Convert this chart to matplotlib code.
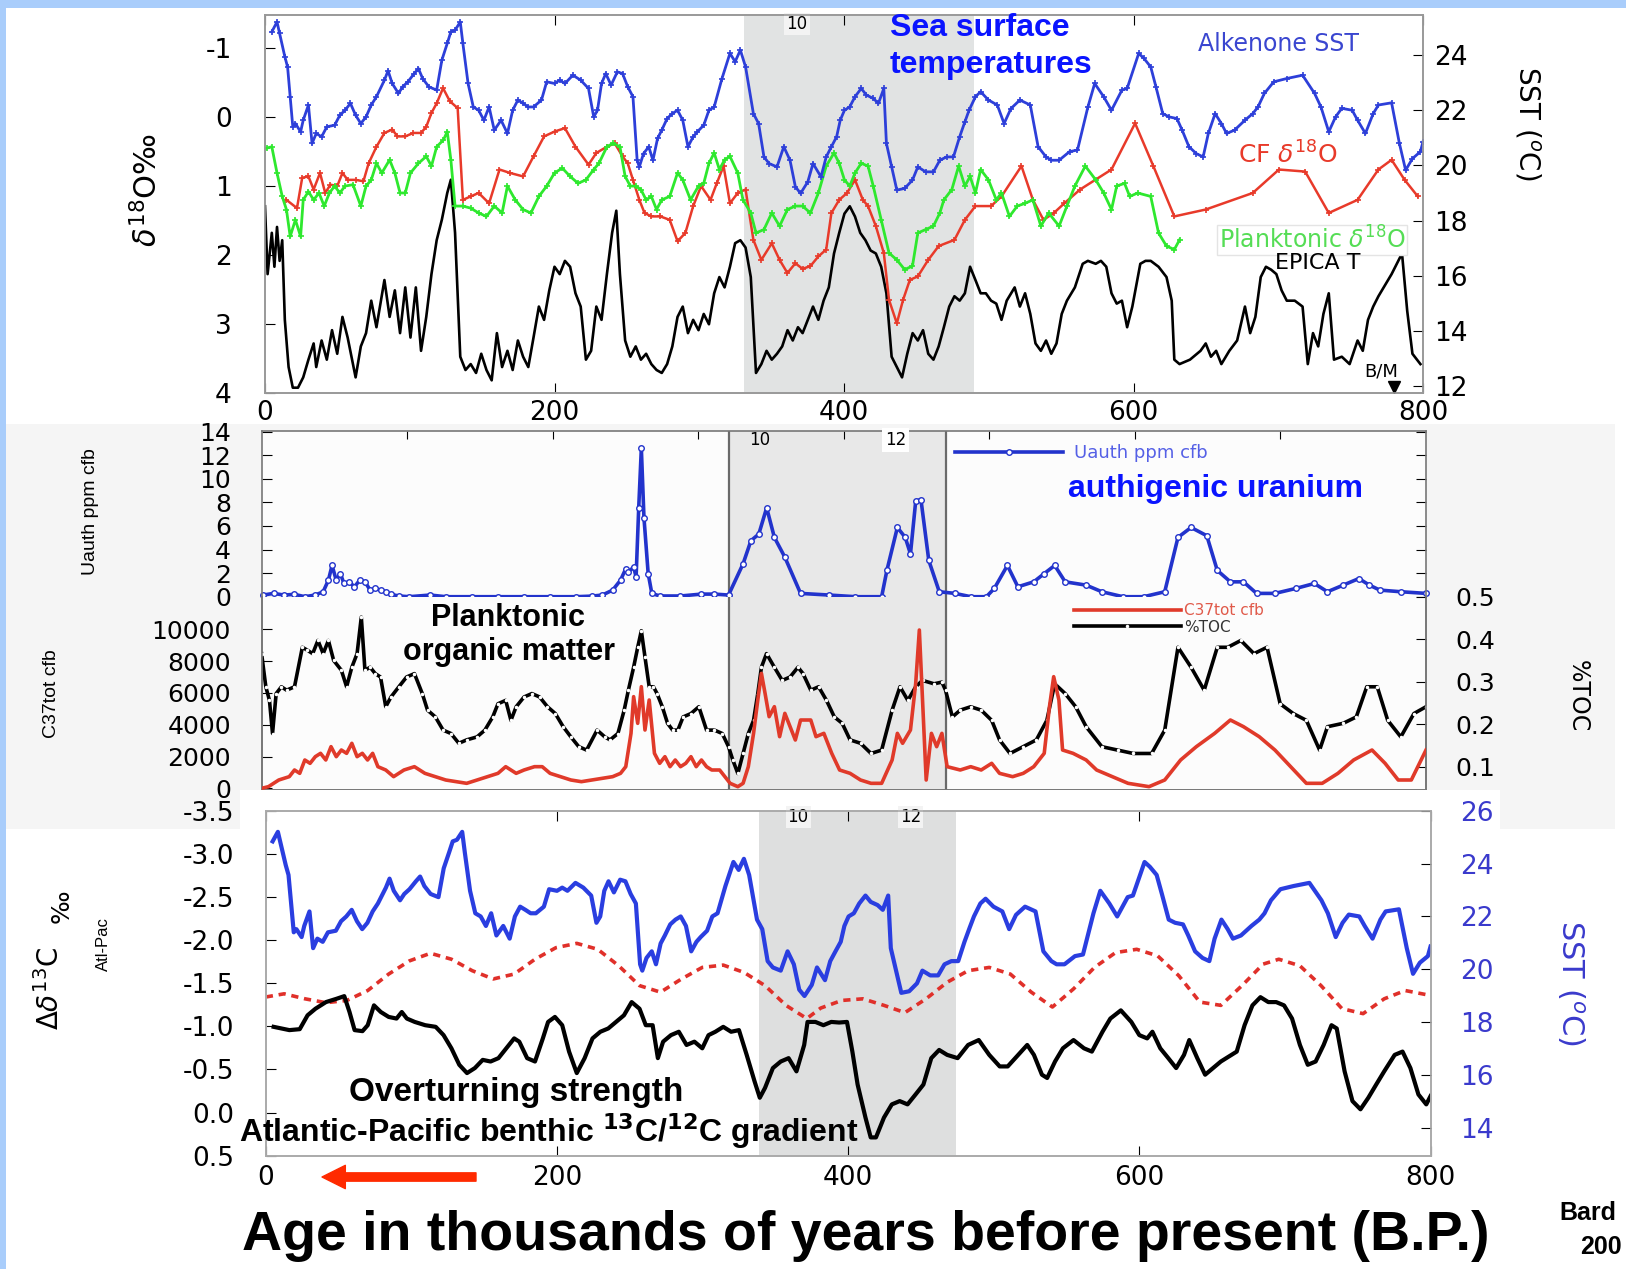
import matplotlib
matplotlib.use('Agg')
import matplotlib.pyplot as plt
from matplotlib.patches import Rectangle, FancyArrowPatch
from matplotlib.transforms import blended_transform_factory
from matplotlib.ticker import FormatStrFormatter

plt.rcParams['font.family'] = ['DejaVu Sans']
plt.rcParams['axes.unicode_minus'] = False
plt.rcParams['mathtext.fontset'] = 'dejavusans'

W, H = 1626, 1269

# ---------------- data (age in kyr BP, value) ----------------
# alkenone SST (deg C), used in the upper and the lower panel
sst_pts = [(4.7, 24.84), (8.3, 25.2), (10.1, 24.78), (13.7, 23.94), (15.6, 23.57), (17.4, 22.49), (19.2, 21.4),
           (21.0, 21.52), (24.6, 21.22), (26.4, 21.64), (30.0, 22.19), (32.5, 20.8), (35.4, 21.16), (39.1, 21.04),
           (42.7, 21.4), (48.1, 21.46), (51.7, 21.82), (55.3, 22.0), (59.0, 22.25), (62.6, 21.82), (66.2, 21.52),
           (69.8, 21.76), (73.4, 22.19), (77.0, 22.49), (82.5, 23.09), (85.0, 23.43), (87.9, 22.97), (92.2, 22.61),
           (95.1, 22.85), (98.7, 23.03), (103.1, 23.33), (106.0, 23.51), (108.9, 23.15), (113.2, 22.85),
           (118.6, 22.73), (122.2, 23.82), (125.9, 24.42), (128.4, 24.84), (131.3, 24.9), (134.9, 25.2),
           (136.7, 24.42), (140.3, 22.97), (143.9, 22.12), (147.6, 22.0), (151.2, 21.64), (154.8, 22.12),
           (158.4, 21.28), (163.1, 21.64), (167.5, 21.16), (171.1, 22.0), (174.7, 22.37), (178.3, 22.25),
           (181.9, 22.12), (185.5, 22.12), (191.0, 22.37), (194.6, 23.03), (200.0, 22.97), (203.6, 23.09),
           (207.2, 22.97), (212.7, 23.27), (218.1, 23.09), (223.5, 22.79), (227.1, 21.76), (229.7, 22.0),
           (232.5, 22.97), (235.4, 23.33), (239.1, 22.91), (243.4, 23.39), (247.0, 23.33), (250.6, 22.85),
           (254.2, 22.49), (257.1, 20.19), (258.6, 19.95), (261.5, 20.43), (265.1, 20.68), (268.0, 20.19),
           (271.2, 20.98), (274.1, 21.28), (277.8, 21.7), (281.4, 21.88), (285.0, 22.0), (288.6, 21.64),
           (292.2, 20.68), (295.8, 21.04), (298.7, 21.22), (303.1, 21.46), (306.7, 22.0), (310.3, 22.12),
           (315.7, 23.15), (321.2, 24.06), (324.8, 23.76), (328.4, 24.18), (332.0, 23.57), (337.4, 21.88),
           (341.0, 21.52), (344.7, 20.31), (348.3, 20.07), (353.7, 19.95), (358.4, 20.68), (362.7, 20.19),
           (366.4, 19.23), (370.0, 18.99), (375.0, 19.41), (378.6, 20.07), (384.1, 19.59), (387.7, 20.31),
           (391.3, 20.68), (394.9, 21.04), (397.4, 21.64), (400.3, 22.0), (403.9, 22.12), (407.6, 22.49),
           (411.9, 22.79), (415.5, 22.55), (420.2, 22.43), (423.8, 22.25), (427.5, 22.79), (429.3, 20.8),
           (432.9, 19.95), (436.5, 19.11), (441.9, 19.17), (447.3, 19.47), (451.0, 19.95), (456.4, 19.77),
           (461.8, 19.77), (466.2, 20.19), (470.9, 20.31), (475.6, 20.31), (479.9, 21.04), (483.5, 21.58),
           (486.4, 22.0), (490.8, 22.49), (494.4, 22.67), (499.8, 22.37), (505.9, 22.19), (510.6, 21.52),
           (515.3, 22.06), (521.5, 22.37), (528.7, 22.19), (534.1, 20.68), (539.6, 20.31), (543.2, 20.19),
           (548.6, 20.19), (555.8, 20.5), (561.3, 20.56), (568.5, 22.12), (573.2, 22.97), (579.4, 22.49),
           (584.8, 22.0), (592.0, 22.73), (595.6, 22.79), (603.6, 24.06), (607.2, 23.88), (611.9, 23.57),
           (615.5, 22.85), (620.2, 21.88), (624.6, 21.76), (630.0, 21.7), (633.6, 21.28), (638.3, 20.68),
           (643.4, 20.43), (648.1, 20.31), (651.7, 21.16), (656.4, 21.88), (660.7, 21.52), (664.3, 21.16),
           (669.8, 21.28), (677.0, 21.64), (682.4, 21.88), (686.0, 22.12), (690.4, 22.61), (696.9, 23.03),
           (705.9, 23.15), (716.8, 23.27), (725.1, 22.61), (729.5, 22.12), (734.9, 21.22), (739.6, 21.76),
           (743.9, 22.07), (751.1, 22.0), (754.8, 21.64), (760.2, 21.16), (765.6, 21.88), (769.2, 22.19),
           (778.3, 22.27), (783.7, 20.8), (788.0, 19.83), (792.7, 20.25), (798.2, 20.5), (800.0, 20.86)]

# benthic (Cibicides) d18O, permil
cf_pts = [(14.8, 1.20), (22.1, 1.32), (25.7, 0.88), (30.0, 0.86), (33.6, 1.05), (38.0, 0.81), (41.6, 1.10),
          (45.2, 0.98), (49.9, 1.00), (53.5, 0.81), (57.1, 0.91), (62.6, 0.91), (68.0, 0.93), (71.6, 0.67),
          (77.0, 0.43), (82.5, 0.23), (87.9, 0.18), (91.5, 0.28), (96.9, 0.28), (102.4, 0.23), (107.8, 0.23),
          (111.4, 0.14), (115.0, -0.06), (118.6, -0.20), (123.0, -0.42), (127.7, -0.23), (133.1, -0.13),
          (136.7, 1.20), (142.1, 1.15), (147.6, 1.10), (154.8, 1.25), (162.0, 0.76), (169.3, 0.81), (178.3, 0.86),
          (185.5, 0.57), (192.8, 0.28), (200.0, 0.21), (207.2, 0.16), (214.5, 0.43), (223.5, 0.69), (228.9, 0.52),
          (236.2, 0.43), (241.6, 0.38), (247.0, 0.57), (250.6, 0.67), (254.2, 0.91), (258.6, 1.20), (262.2, 1.39),
          (266.9, 1.44), (273.1, 1.44), (279.6, 1.49), (285.0, 1.80), (290.4, 1.68), (295.8, 1.29), (301.3, 1.00),
          (307.8, 1.20), (312.1, 0.96), (316.8, 0.71), (321.2, 1.25), (326.6, 1.10), (332.0, 1.05), (337.4, 1.78),
          (342.9, 2.07), (350.1, 1.83), (355.5, 2.07), (360.9, 2.26), (366.4, 2.12), (371.4, 2.20), (376.8, 2.16),
          (382.3, 2.02), (387.7, 1.92), (391.3, 1.39), (396.7, 1.20), (402.1, 1.10), (407.6, 0.91), (413.0, 1.20),
          (416.6, 1.29), (422.0, 1.58), (427.5, 1.97), (431.1, 2.65), (436.5, 2.99), (440.8, 2.65), (445.5, 2.36),
          (451.0, 2.31), (458.2, 2.07), (465.4, 1.87), (476.3, 1.78), (483.5, 1.49), (490.8, 1.29), (501.6, 1.29),
          (508.8, 1.15), (522.6, 0.71), (530.5, 1.20), (537.8, 1.49), (545.0, 1.39), (552.2, 1.25), (563.1, 1.05),
          (584.8, 0.76), (601.1, 0.09), (613.7, 0.71), (628.2, 1.44), (649.9, 1.34), (682.4, 1.10), (700.5, 0.76),
          (718.6, 0.79), (734.9, 1.39), (754.8, 1.20), (769.2, 0.76), (778.3, 0.62), (787.3, 0.91), (796.4, 1.15)]

# planktonic d18O, permil
pl_pts = [(1.1, 0.45), (4.7, 0.43), (8.3, 0.81), (11.9, 1.15), (14.8, 1.34), (17.4, 1.73), (21.0, 1.49),
          (24.6, 1.73), (26.4, 1.20), (30.0, 1.08), (33.6, 1.20), (37.3, 1.10), (40.9, 1.29), (44.5, 1.10),
          (48.1, 1.00), (51.7, 1.10), (55.3, 1.00), (60.8, 0.98), (66.2, 1.29), (69.8, 1.00), (73.4, 0.91),
          (77.0, 0.67), (80.7, 0.81), (86.1, 0.62), (89.7, 0.81), (93.3, 1.10), (96.9, 1.10), (100.5, 0.81),
          (106.0, 0.67), (111.4, 0.57), (115.0, 0.71), (118.6, 0.43), (123.3, 0.33), (125.9, 0.21), (128.4, 0.62),
          (131.3, 1.29), (136.7, 1.29), (142.1, 1.32), (147.6, 1.39), (153.0, 1.44), (158.4, 1.29), (163.8, 1.39),
          (167.5, 1.00), (172.9, 1.20), (178.3, 1.34), (183.7, 1.39), (189.2, 1.15), (194.6, 1.00), (200.0, 0.81),
          (205.4, 0.74), (210.8, 0.86), (216.3, 0.96), (221.7, 0.91), (227.1, 0.76), (230.7, 0.67), (236.2, 0.43),
          (240.5, 0.38), (245.2, 0.43), (248.8, 0.86), (252.4, 1.00), (256.1, 1.00), (259.7, 1.05), (263.3, 1.20),
          (266.9, 1.15), (270.5, 1.34), (274.1, 1.20), (279.6, 1.15), (285.0, 0.81), (288.6, 0.91), (294.0, 1.20),
          (299.5, 1.00), (303.1, 0.96), (306.7, 0.67), (310.3, 0.52), (313.9, 0.76), (317.5, 0.62), (321.2, 0.57),
          (326.6, 0.81), (330.2, 1.20), (335.6, 1.39), (339.2, 1.68), (344.7, 1.63), (350.1, 1.39), (355.5, 1.58),
          (360.9, 1.34), (366.4, 1.29), (371.4, 1.29), (376.8, 1.39), (382.3, 1.10), (387.7, 0.71), (393.1, 0.52),
          (396.7, 0.67), (400.3, 0.91), (404.0, 1.00), (407.6, 0.81), (411.9, 0.67), (416.6, 0.71), (420.2, 1.00),
          (425.7, 1.49), (431.1, 1.97), (436.5, 2.07), (441.9, 2.21), (447.3, 2.16), (451.0, 1.68), (456.4, 1.63),
          (461.8, 1.58), (466.2, 1.39), (469.0, 1.20), (474.5, 1.05), (479.2, 0.71), (483.5, 1.00), (487.1, 0.86),
          (490.8, 1.10), (494.4, 0.76), (499.8, 0.91), (505.2, 1.20), (508.8, 1.10), (514.3, 1.44), (519.7, 1.29),
          (525.1, 1.25), (530.5, 1.20), (536.0, 1.58), (541.4, 1.39), (548.6, 1.58), (554.0, 1.29), (559.5, 1.00),
          (566.7, 0.71), (573.9, 0.91), (579.4, 1.10), (584.8, 1.34), (588.4, 1.00), (593.8, 0.96), (597.4, 1.15),
          (602.9, 1.10), (611.9, 1.15), (617.3, 1.68), (622.8, 1.87), (628.2, 1.92), (631.8, 1.78)]

# EPICA Dome C temperature anomaly (deg C)
epica_pts = [(0.0, 2.3), (1.8, -2.3), (4.7, 0.5), (6.5, -1.8), (8.3, 0.9), (10.1, -1.4), (11.9, 0.0), (13.7, -5.4),
             (16.3, -8.6), (19.2, -10.0), (22.8, -10.0), (26.4, -9.3), (30.0, -8.1), (33.6, -7.0), (35.4, -8.6),
             (39.1, -6.8), (42.7, -8.1), (46.3, -6.1), (49.9, -7.7), (53.5, -5.2), (57.1, -6.6), (62.6, -9.3),
             (66.2, -7.2), (69.8, -6.3), (73.4, -4.1), (77.0, -5.9), (82.5, -2.7), (86.1, -5.2), (89.7, -3.4),
             (93.3, -6.3), (96.9, -3.2), (100.5, -6.6), (104.2, -3.2), (107.8, -7.5), (111.4, -5.2), (115.0, -2.3),
             (118.6, 0.0), (122.2, 1.4), (125.9, 3.2), (128.4, 4.1), (131.3, 0.5), (134.9, -7.9), (138.5, -8.8),
             (142.1, -8.4), (145.8, -9.0), (149.4, -7.7), (153.0, -8.8), (156.6, -9.5), (160.2, -6.3), (163.8, -8.6),
             (167.5, -7.5), (171.1, -8.8), (174.7, -6.8), (178.3, -7.9), (181.9, -8.6), (185.5, -6.6), (189.2, -4.5),
             (192.8, -5.4), (196.4, -3.4), (200.0, -1.8), (203.6, -2.3), (207.2, -1.4), (210.8, -1.8), (214.5, -3.6),
             (218.1, -4.5), (221.7, -8.1), (225.3, -7.5), (228.9, -4.5), (232.5, -5.4), (236.2, -2.3), (239.8, 0.5),
             (242.7, 2.0), (245.2, -2.3), (248.8, -6.8), (252.4, -7.9), (256.1, -7.2), (259.7, -8.1), (263.3, -7.7),
             (266.9, -8.4), (270.5, -8.8), (274.1, -9.0), (277.8, -8.4), (281.4, -7.2), (285.0, -5.2), (288.6, -4.5),
             (292.2, -6.3), (295.8, -5.4), (299.5, -6.1), (303.1, -5.0), (306.7, -5.7), (310.3, -3.6), (313.9, -2.5),
             (317.5, -3.2), (321.2, -1.8), (324.8, -0.2), (328.4, 0.0), (332.0, -0.5), (335.6, -2.5), (339.2, -9.0),
             (342.9, -8.4), (346.5, -7.5), (350.1, -8.1), (353.7, -7.7), (357.3, -7.2), (361.0, -6.1), (364.6, -6.8),
             (368.2, -5.9), (371.4, -6.3), (375.0, -5.4), (378.6, -4.5), (382.3, -5.4), (385.9, -4.1), (389.5, -3.2),
             (393.1, -0.9), (396.7, 0.5), (400.3, 1.8), (404.0, 2.3), (407.6, 1.6), (411.2, 0.5), (414.8, 0.0),
             (418.4, -0.7), (422.0, -0.9), (425.7, -1.8), (429.3, -3.6), (432.9, -7.9), (436.5, -8.6), (440.1, -9.3),
             (443.7, -7.7), (447.4, -6.3), (451.0, -6.8), (454.6, -6.1), (458.2, -7.7), (461.8, -8.1), (465.4, -7.2),
             (469.0, -5.9), (472.7, -4.5), (476.3, -3.8), (479.9, -4.1), (483.5, -3.6), (487.1, -1.8), (490.8, -2.7),
             (494.4, -3.6), (498.0, -3.6), (501.6, -4.1), (505.2, -4.3), (508.8, -5.4), (512.4, -4.1), (517.9, -3.2),
             (521.5, -4.5), (525.1, -3.6), (528.7, -5.0), (532.3, -7.0), (536.0, -7.5), (539.6, -6.8), (543.2, -7.7),
             (546.8, -7.0), (550.4, -5.0), (554.0, -4.1), (559.5, -3.2), (564.9, -1.6), (568.5, -1.4), (573.9, -1.6),
             (577.5, -1.4), (581.2, -1.8), (584.8, -3.6), (588.4, -4.3), (592.0, -4.1), (595.6, -5.9), (599.2, -4.5),
             (604.7, -1.6), (608.3, -1.4), (611.9, -1.4), (617.3, -1.8), (622.8, -2.5), (626.4, -4.1), (628.2, -8.1),
             (631.8, -8.4), (639.0, -8.1), (646.3, -7.5), (649.9, -7.0), (653.5, -7.9), (657.1, -7.5), (660.7, -8.4),
             (666.2, -7.5), (671.6, -6.8), (677.0, -4.5), (680.6, -6.3), (684.2, -5.2), (687.9, -2.5), (691.5, -1.8),
             (695.1, -2.0), (698.7, -2.3), (702.3, -3.4), (705.9, -4.1), (711.4, -4.1), (716.8, -4.5), (720.4, -8.4),
             (724.0, -6.3), (727.6, -7.2), (731.2, -5.0), (734.9, -3.6), (738.5, -8.1), (743.9, -7.9), (749.3, -8.4),
             (754.8, -6.8), (758.4, -7.5), (762.0, -5.4), (765.6, -4.5), (769.2, -3.8), (774.7, -2.9), (778.3, -2.3),
             (781.9, -1.6), (785.5, -0.9), (789.1, -4.8), (792.7, -7.7), (798.2, -8.4)]

bm_age = 780  # Brunhes/Matuyama reversal

# authigenic uranium, ppm carbonate-free basis
u_pts = [(1.1, 0.14), (8.2, 0.28), (15.4, 0.14), (22.6, 0.2), (29.7, 0.0), (36.9, 0.14), (42.3, 0.42), (45.9, 1.40),
         (48.4, 2.65), (51.3, 1.40), (54.1, 1.96), (56.6, 1.12), (60.2, 1.26), (63.8, 0.84), (67.4, 1.40),
         (71.0, 1.26), (74.6, 0.56), (78.1, 0.70), (81.7, 0.56), (85.3, 0.42), (88.9, 0.20), (94.3, 0.06),
         (101.4, 0.0), (115.8, 0.14), (126.5, 0.0), (144.4, 0.0), (162.4, 0.0), (180.3, 0.0), (198.2, 0.0),
         (216.1, 0.0), (226.9, 0.05), (234.1, 0.14), (241.2, 0.56), (246.6, 1.40), (250.2, 2.37), (252.0, 2.10),
         (255.6, 2.51), (257.3, 1.68), (259.1, 7.54), (260.9, 12.57), (262.7, 6.70), (265.6, 1.96), (268.1, 0.28),
         (273.5, 0.06), (287.8, 0.06), (302.2, 0.22), (311.1, 0.22), (320.8, 0.14), (330.8, 2.79), (336.2, 4.75),
         (341.6, 5.31), (347.0, 7.54), (352.3, 5.03), (359.5, 3.35), (370.3, 0.28), (389.9, 0.14), (407.9, 0.0),
         (426.0, 0.0), (429.6, 2.23), (436.8, 5.87), (442.2, 5.03), (445.8, 3.63), (449.4, 8.10), (453.0, 8.24),
         (458.4, 3.07), (465.6, 0.42), (476.4, 0.28), (487.2, 0.0), (498.0, 0.0), (503.4, 0.70), (512.4, 2.65),
         (519.6, 0.84), (530.5, 1.26), (537.7, 1.96), (544.9, 2.65), (552.1, 1.26), (566.5, 0.98), (577.3, 0.42),
         (591.7, 0.0), (606.1, 0.0), (620.5, 0.42), (629.6, 5.03), (638.6, 5.87), (649.4, 5.17), (656.6, 2.23),
         (665.6, 1.26), (674.6, 1.26), (683.6, 0.28), (696.2, 0.28), (710.6, 0.70), (723.3, 1.12), (732.3, 0.42),
         (743.1, 0.98), (753.9, 1.54), (761.1, 0.98), (768.3, 0.56), (782.7, 0.42), (800.0, 0.28)]

# total organic carbon, %
toc_pts = [(0.0, 0.366), (2.9, 0.288), (5.4, 0.256), (7.5, 0.178), (10.0, 0.272), (13.6, 0.288), (17.2, 0.280),
           (22.6, 0.288), (28.0, 0.381), (31.5, 0.374), (35.1, 0.366), (38.7, 0.397), (42.3, 0.366), (45.9, 0.397),
           (49.5, 0.350), (54.8, 0.327), (58.4, 0.288), (62.0, 0.334), (65.6, 0.366), (68.5, 0.452), (71.0, 0.327),
           (74.6, 0.334), (78.1, 0.319), (81.7, 0.311), (85.3, 0.241), (88.9, 0.264), (94.3, 0.288), (99.6, 0.311),
           (105.0, 0.319), (110.4, 0.272), (114.0, 0.233), (119.4, 0.217), (124.7, 0.186), (130.1, 0.178),
           (135.5, 0.155), (140.9, 0.163), (148.0, 0.170), (153.4, 0.186), (158.8, 0.217), (162.4, 0.248),
           (167.7, 0.256), (171.3, 0.209), (174.9, 0.241), (180.3, 0.264), (185.7, 0.272), (191.0, 0.264),
           (196.4, 0.241), (201.8, 0.225), (207.2, 0.194), (212.5, 0.170), (217.9, 0.147), (223.3, 0.139),
           (230.5, 0.186), (235.8, 0.170), (239.4, 0.163), (244.8, 0.178), (249.1, 0.233), (252.0, 0.280),
           (255.6, 0.334), (258.4, 0.381), (260.9, 0.420), (263.4, 0.358), (266.3, 0.288), (269.2, 0.288),
           (271.7, 0.272), (275.3, 0.241), (278.9, 0.202), (282.4, 0.186), (286.0, 0.186), (289.6, 0.217),
           (295.0, 0.225), (300.4, 0.241), (305.7, 0.186), (311.1, 0.186), (316.5, 0.178), (320.8, 0.147),
           (323.7, 0.116), (327.2, 0.084), (330.8, 0.131), (334.4, 0.178), (338.0, 0.209), (340.9, 0.272),
           (343.4, 0.334), (346.9, 0.366), (352.3, 0.334), (357.7, 0.303), (363.1, 0.311), (368.5, 0.334),
           (372.0, 0.319), (377.3, 0.280), (382.7, 0.288), (388.1, 0.256), (393.5, 0.217), (398.9, 0.202),
           (404.3, 0.163), (411.5, 0.155), (418.7, 0.131), (426.0, 0.139), (433.2, 0.233), (438.6, 0.288),
           (444.0, 0.256), (449.4, 0.288), (454.1, 0.303), (462.0, 0.295), (467.4, 0.299), (469.9, 0.280),
           (474.6, 0.217), (480.0, 0.233), (487.2, 0.241), (494.4, 0.233), (501.6, 0.209), (507.0, 0.163),
           (514.2, 0.131), (523.3, 0.147), (532.3, 0.163), (539.5, 0.209), (544.9, 0.295), (552.1, 0.272),
           (559.3, 0.241), (566.5, 0.194), (577.3, 0.147), (588.1, 0.139), (598.9, 0.131), (611.5, 0.131),
           (620.5, 0.186), (629.6, 0.381), (638.6, 0.334), (647.6, 0.280), (656.6, 0.381), (663.8, 0.381),
           (672.8, 0.397), (681.8, 0.366), (690.8, 0.381), (699.8, 0.248), (708.8, 0.225), (717.8, 0.209),
           (726.9, 0.139), (732.3, 0.194), (743.1, 0.202), (752.1, 0.217), (759.3, 0.288), (766.5, 0.288),
           (773.7, 0.209), (782.7, 0.170), (791.7, 0.225), (800.0, 0.241)]

# C37 alkenones, carbonate-free basis
c37_pts = [(0.0, 0), (4.7, 105), (8.2, 315), (11.8, 524), (15.4, 629), (19.0, 734), (22.6, 1153), (26.2, 943),
           (29.7, 1782), (33.3, 1572), (36.9, 1991), (40.5, 2201), (44.1, 1782), (47.7, 2620), (51.3, 1991),
           (54.8, 2410), (58.4, 2201), (62.0, 2830), (65.6, 1991), (69.2, 2201), (72.8, 1782), (76.3, 2201),
           (79.9, 1362), (85.3, 1153), (90.7, 734), (97.8, 1153), (105.0, 1362), (112.2, 943), (119.4, 734),
           (126.5, 524), (133.7, 419), (140.9, 315), (148.0, 524), (155.2, 734), (162.4, 943), (167.7, 1362),
           (174.9, 943), (180.3, 1153), (187.5, 1362), (192.8, 1362), (198.2, 943), (205.4, 734), (212.5, 524),
           (219.7, 419), (226.9, 524), (234.1, 629), (241.2, 734), (246.6, 943), (250.2, 1362), (253.8, 3458),
           (255.6, 5764), (258.4, 4087), (260.9, 6393), (263.4, 3668), (266.3, 5554), (269.9, 2201), (273.5, 1572),
           (277.1, 1991), (280.6, 1362), (284.2, 1782), (287.8, 1362), (291.4, 1572), (295.0, 1991), (298.6, 1362),
           (302.2, 1782), (305.7, 1362), (309.3, 1153), (314.7, 1153), (318.3, 734), (321.9, 315), (327.2, 105),
           (330.8, 315), (334.4, 1362), (338.0, 3458), (340.9, 5554), (343.4, 7231), (345.9, 5974), (348.7, 4506),
           (352.3, 5135), (355.9, 3249), (359.5, 4716), (363.1, 3878), (366.7, 3039), (370.3, 4297), (377.3, 4297),
           (380.9, 3249), (386.3, 3458), (391.7, 2201), (397.1, 1153), (404.3, 943), (411.5, 524), (418.7, 315),
           (426.0, 315), (433.2, 1782), (436.8, 3458), (440.4, 2830), (445.8, 3668), (449.4, 6602), (451.9, 9956),
           (454.1, 5554), (456.6, 524), (460.2, 3458), (463.8, 2620), (467.4, 3458), (471.0, 1362), (480.0, 1153),
           (487.2, 1362), (494.4, 1153), (501.6, 1572), (507.0, 943), (516.0, 734), (523.3, 943), (530.5, 1362),
           (537.7, 2201), (541.3, 5135), (544.2, 7022), (547.8, 5554), (550.3, 2410), (557.5, 2201), (566.5, 1782),
           (573.7, 1153), (584.5, 734), (595.3, 315), (609.7, 105), (620.5, 524), (631.4, 1782), (642.2, 2620),
           (654.8, 3458), (665.6, 4297), (674.6, 3878), (685.4, 3249), (696.2, 2410), (707.0, 1362), (717.8, 315),
           (728.7, 315), (739.5, 943), (750.3, 1782), (762.9, 2410), (771.9, 1572), (780.9, 524), (789.9, 524),
           (800.0, 2410)]

# Atlantic-Pacific benthic d13C gradient, permil
grad_pts = [(5.4, -0.994), (10.8, -0.975), (16.2, -0.956), (23.3, -0.967), (28.7, -1.128), (34.1, -1.204),
            (41.3, -1.281), (48.5, -1.319), (53.9, -1.350), (57.5, -1.166), (61.0, -0.956), (66.4, -0.944),
            (70.0, -1.013), (74.3, -1.243), (79.0, -1.166), (84.4, -1.109), (89.8, -1.090), (93.4, -1.166),
            (96.9, -1.090), (102.3, -1.051), (109.5, -1.013), (116.7, -0.994), (122.1, -0.898), (127.5, -0.745),
            (132.9, -0.554), (138.2, -0.458), (143.6, -0.516), (149.0, -0.611), (154.4, -0.592), (159.8, -0.631),
            (165.2, -0.745), (170.6, -0.860), (174.1, -0.822), (179.5, -0.631), (184.9, -0.592), (190.3, -0.860),
            (193.9, -1.051), (198.6, -1.109), (203.6, -1.013), (208.3, -0.707), (213.6, -0.458), (219.0, -0.631),
            (224.4, -0.860), (229.8, -0.937), (235.2, -0.975), (240.6, -1.051), (246.0, -1.128), (251.3, -1.281),
            (256.7, -1.204), (261.0, -1.013), (265.7, -1.013), (269.3, -0.631), (272.9, -0.822), (278.3, -0.898),
            (283.7, -0.937), (289.0, -0.784), (294.4, -0.822), (299.8, -0.745), (304.1, -0.898), (308.8, -0.937),
            (314.2, -0.994), (319.6, -0.937), (325.0, -0.956), (330.3, -0.669), (335.7, -0.363), (339.3, -0.172),
            (342.9, -0.286), (348.3, -0.516), (353.7, -0.592), (359.1, -0.631), (364.5, -0.478), (369.8, -0.784),
            (372.1, -1.051), (377.5, -1.051), (383.0, -1.013), (388.4, -1.051), (393.8, -1.044), (399.2, -1.051),
            (402.9, -0.707), (406.5, -0.325), (411.9, 0.058), (415.5, 0.288), (419.1, 0.288), (424.6, 0.058),
            (430.0, -0.095), (435.4, -0.133), (440.8, -0.095), (446.3, -0.210), (451.7, -0.325), (457.1, -0.631),
            (462.5, -0.726), (468.0, -0.669), (475.2, -0.631), (482.4, -0.784), (489.7, -0.841), (496.9, -0.669),
            (504.1, -0.535), (509.6, -0.535), (516.8, -0.669), (523.0, -0.784), (527.6, -0.669), (533.1, -0.439),
            (536.7, -0.401), (542.1, -0.592), (547.5, -0.745), (554.8, -0.841), (562.0, -0.745), (567.4, -0.707),
            (574.7, -0.937), (580.1, -1.090), (587.3, -1.185), (594.5, -1.051), (600.0, -0.898), (605.4, -0.860),
            (609.0, -0.937), (614.4, -0.745), (619.9, -0.631), (625.3, -0.516), (630.7, -0.669), (634.3, -0.841),
            (639.8, -0.631), (645.2, -0.439), (650.6, -0.516), (656.0, -0.592), (661.5, -0.650), (666.9, -0.707),
            (672.3, -1.013), (677.7, -1.243), (683.2, -1.338), (688.6, -1.281), (694.0, -1.281), (699.4, -1.243),
            (704.9, -1.090), (710.3, -0.784), (715.7, -0.554), (721.1, -0.592), (726.6, -0.784), (732.0, -1.013),
            (735.6, -0.975), (741.0, -0.478), (746.4, -0.133), (751.9, -0.038), (757.3, -0.172), (762.7, -0.325),
            (768.2, -0.478), (775.4, -0.669), (780.8, -0.707), (786.2, -0.516), (791.7, -0.210), (797.1, -0.095),
            (800.0, -0.191)]

# smooth reference curve (dashed), permil
ref_pts = [(0.0, -1.34), (12.6, -1.377), (26.9, -1.319), (41.3, -1.274), (55.7, -1.300), (70.0, -1.415),
           (84.4, -1.606), (98.7, -1.759), (113.1, -1.847), (127.5, -1.778), (141.8, -1.645), (156.2, -1.549),
           (170.6, -1.606), (184.9, -1.778), (199.3, -1.912), (213.6, -1.962), (228.0, -1.893), (242.4, -1.702),
           (256.7, -1.472), (271.1, -1.396), (285.5, -1.549), (299.8, -1.683), (314.2, -1.710), (328.5, -1.625),
           (342.9, -1.472), (357.3, -1.243), (371.6, -1.090), (381.2, -1.212), (395.6, -1.300), (410.1, -1.319),
           (424.6, -1.243), (439.0, -1.159), (453.5, -1.319), (468.0, -1.511), (482.4, -1.645), (496.9, -1.683),
           (511.4, -1.606), (525.8, -1.396), (540.3, -1.224), (554.8, -1.434), (569.2, -1.683), (583.7, -1.855),
           (598.2, -1.893), (612.6, -1.817), (627.1, -1.587), (641.6, -1.281), (656.0, -1.243), (670.5, -1.472),
           (685.0, -1.721), (695.8, -1.778), (710.3, -1.702), (724.8, -1.472), (739.2, -1.205), (753.7, -1.147),
           (768.2, -1.319), (782.6, -1.415), (800.0, -1.358)]

# shaded interval (MIS 10-12) in each panel
stage_top = (331, 490)
stage_mid = (320.8, 470)
stage_bot = (339, 474)

age_ticks = [0, 200, 400, 600, 800]
d18o_ticks = [-1, 0, 1, 2, 3, 4]
sst_ticks_top = [12, 14, 16, 18, 20, 22, 24]
u_ticks = [0, 2, 4, 6, 8, 10, 12, 14]
c37_ticks = [0, 2000, 4000, 6000, 8000, 10000]
toc_ticks = [0.1, 0.2, 0.3, 0.4, 0.5]
grad_ticks = [-3.5, -3.0, -2.5, -2.0, -1.5, -1.0, -0.5, 0.0, 0.5]
sst_ticks_bot = [14, 16, 18, 20, 22, 24, 26]


def unzip(points):
    return [p[0] for p in points], [p[1] for p in points]


def fx(x):
    return x / W


def fy(y):
    return 1 - y / H


def rect(x0, y0, x1, y1):
    return [x0 / W, 1 - y1 / H, (x1 - x0) / W, (y1 - y0) / H]


def frame(ax, color='#999999'):
    for s in ax.spines.values():
        s.set_color(color)
        s.set_linewidth(1.2)


TICK = 19
BLUE = '#2d3fd9'
RED = '#e83a2a'
GREEN = '#2ee82e'
BOLD = dict(fontweight='bold', family='Liberation Sans')

fig = plt.figure(figsize=(W / 100, H / 100), dpi=100)

# backing sheets
fig.add_artist(Rectangle((fx(6), fy(829)), fx(1615) - fx(6), fy(424) - fy(829), transform=fig.transFigure,
                         facecolor='#f5f5f5', edgecolor='none', zorder=0.5))
fig.add_artist(Rectangle((fx(240), 0), fx(1500) - fx(240), fy(790), transform=fig.transFigure,
                         facecolor='white', edgecolor='none', zorder=1.5))
fig.add_artist(Rectangle((0, fy(8)), 1, 8 / H, transform=fig.transFigure,
                         facecolor='#a9cdfb', edgecolor='none', zorder=10))
fig.add_artist(Rectangle((0, 0), 6 / W, 1, transform=fig.transFigure,
                         facecolor='#a9cdfb', edgecolor='none', zorder=10))

# ================= upper panel =================
ax_top = fig.add_axes(rect(265, 15, 1423, 393))
ax_top.axvspan(*stage_top, color='#e1e3e3', lw=0)
ax_top.set_xlim(0, 800)
ax_top.set_ylim(3.99, -1.48)
ax_top.set_xticks(age_ticks)
ax_top.set_yticks(d18o_ticks)
ax_top.tick_params(direction='in', top=True, length=7, labelsize=TICK)
ax_top.tick_params(axis='y', pad=24)
ax_top.tick_params(axis='x', pad=5)
frame(ax_top)
bt = blended_transform_factory(ax_top.transData, ax_top.transAxes)
ax_top.text(367.5, 0.975, '10', transform=bt, ha='center', va='center', fontsize=12,
            bbox=dict(facecolor='#f3f3f3', edgecolor='none', pad=1.5))

ax_ep = ax_top.twinx()
ax_ep.set_ylim(-10.36, 15.27)
ax_ep.axis('off')
ea, ev = unzip(epica_pts)
ax_ep.plot(ea, ev, color='black', lw=1.9)

ax_d = ax_top.twinx()
ax_d.set_ylim(ax_top.get_ylim())
ax_d.axis('off')
ca, cv = unzip(cf_pts)
ax_d.plot(ca, cv, color=RED, lw=1.8, marker='+', ms=5, mew=1.2)
pa, pv = unzip(pl_pts)
ax_d.plot(pa, pv, color=GREEN, lw=2, marker='+', ms=5, mew=1.2)

ax_sst = ax_top.twinx()
ax_sst.set_ylim(11.76, 25.45)
ax_sst.set_yticks(sst_ticks_top)
ax_sst.tick_params(direction='in', length=7, labelsize=TICK, pad=8)
frame(ax_sst)
sa, sv = unzip(sst_pts)
ax_sst.plot(sa, sv, color=BLUE, lw=2, marker='+', ms=5, mew=1.2)
ax_sst.plot([bm_age], [0.016], transform=bt, marker='v', color='black', ms=9, clip_on=False)
ax_sst.text(771, 0.056, 'B/M', transform=bt, ha='center', va='center', fontsize=13)

fig.text(fx(147), fy(190), r'$\delta^{18}$O‰', rotation=90, fontsize=22, ha='center', va='center')
fig.text(fx(1527), fy(123), r'SST ($^{o}$C)', rotation=270, fontsize=20, ha='center', va='center')
fig.text(fx(1278), fy(44), 'Alkenone SST', color='#3a46d0', fontsize=17, ha='center', va='center')
fig.text(fx(1288), fy(155), r'CF $\delta^{18}$O', color=RED, fontsize=18, ha='center', va='center')
fig.text(fx(1312), fy(240), r'Planktonic $\delta^{18}$O', color='#55dd55', fontsize=17, ha='center',
         va='center', bbox=dict(facecolor='white', edgecolor='#e4e4e4', pad=0.8))
fig.text(fx(1318), fy(263), 'EPICA T', color='black', fontsize=16, ha='center', va='center')
fig.text(fx(890), fy(28), 'Sea surface', color='#0a14ff', fontsize=23, ha='left', va='center', **BOLD)
fig.text(fx(890), fy(65), 'temperatures', color='#0a14ff', fontsize=23, ha='left', va='center', **BOLD)

# ================= middle panel =================
MID_BG = '#fcfcfc'
ax_u = fig.add_axes(rect(261.6, 431, 1426, 596.7), zorder=1)
ax_c = fig.add_axes(rect(261.6, 596.7, 1426, 790), zorder=1)
for ax in (ax_u, ax_c):
    ax.set_facecolor(MID_BG)
    ax.set_xlim(0, 800)
    ax.axvspan(*stage_mid, color='#e8e8e8', lw=0)
    for xv in stage_mid:
        ax.axvline(xv, color='#6a6a6a', lw=1.6)
    frame(ax, '#777777')
ax_u.spines['bottom'].set_visible(False)
ax_c.spines['top'].set_visible(False)

ax_u.set_ylim(0, 14.05)
ax_u.set_yticks(u_ticks)
ax_u.set_xticks(range(100, 800, 100))
ax_u.tick_params(axis='x', top=True, bottom=False, labelbottom=False, direction='in', length=6)
ax_u.tick_params(axis='y', right=True, direction='in', length=7, labelsize=TICK - 1, pad=22)
ua, uv = unzip(u_pts)
u_line, = ax_u.plot(ua, uv, color='#2233cc', lw=2.6, marker='o', ms=4, mfc='white', mew=1, clip_on=False)
bu = blended_transform_factory(ax_u.transData, ax_u.transAxes)
ax_u.text(342, 0.945, '10', transform=bu, ha='center', va='center', fontsize=12)
ax_u.text(435.7, 0.945, '12', transform=bu, ha='center', va='center', fontsize=12,
          bbox=dict(facecolor='white', edgecolor='none', pad=2))
ax_u.legend([u_line], ['Uauth ppm cfb'], loc='upper left', bbox_to_anchor=(fx(955), fy(444)),
            bbox_transform=fig.transFigure, frameon=False, fontsize=13, handlelength=6, handletextpad=0.6,
            borderpad=0, borderaxespad=0, labelcolor='#5560e6')

ax_c.set_ylim(-105, 12052)
ax_c.set_yticks(c37_ticks)
ax_c.set_xticks([])
ax_c.tick_params(axis='y', direction='in', length=7, labelsize=TICK - 1, pad=22)

ax_t = ax_c.twinx()
ax_t.set_zorder(1.1)
ax_t.set_ylim(0.045, 0.5001)
ax_t.set_yticks(toc_ticks)
ax_t.tick_params(direction='in', length=7, labelsize=TICK - 1, pad=21)
frame(ax_t, '#777777')
ax_t.spines['top'].set_visible(False)
ta, tv = unzip(toc_pts)
toc_line, = ax_t.plot(ta, tv, color='black', lw=2.6, marker='.', ms=3, mfc='white', mec='white')

ax_r = ax_c.twinx()
ax_r.set_zorder(1.2)
ax_r.set_ylim(ax_c.get_ylim())
ax_r.axis('off')
ra, rv = unzip(c37_pts)
c37_line, = ax_r.plot(ra, rv, color='#e03a2a', lw=2.6)
ax_r.legend([c37_line, toc_line], ['C37tot cfb', '%TOC'], loc='upper left',
            bbox_to_anchor=(fx(1074), fy(603)), bbox_transform=fig.transFigure, frameon=False, fontsize=11,
            handlelength=7, handletextpad=0.2, labelspacing=0.1, borderpad=0, borderaxespad=0,
            labelcolor=['#e05a4a', '#333333'])

fig.text(fx(90), fy(512), 'Uauth ppm cfb', rotation=90, fontsize=14, ha='center', va='center',
         family='Liberation Sans', zorder=3)
fig.text(fx(52), fy(694), 'C37tot cfb', rotation=90, fontsize=14, ha='center', va='center',
         family='Liberation Sans', zorder=3)
fig.text(fx(1578), fy(696), '%TOC', rotation=270, fontsize=17, ha='center', va='center', zorder=3)
fig.text(fx(1215), fy(489), 'authigenic uranium', color='#0a14ff', fontsize=23, ha='center', va='center',
         zorder=3, **BOLD)
fig.text(fx(508), fy(618), 'Planktonic', color='black', fontsize=22, ha='center', va='center', zorder=3, **BOLD)
fig.text(fx(509), fy(652), 'organic matter', color='black', fontsize=22, ha='center', va='center', zorder=3,
         **BOLD)

# ================= lower panel =================
ax_b = fig.add_axes(rect(265.8, 810.7, 1430.5, 1155.7), zorder=2)
ax_b.set_facecolor('white')
ax_b.axvspan(*stage_bot, color='#dedfdf', lw=0)
ax_b.set_xlim(0, 800)
ax_b.set_ylim(0.5, -3.5)
ax_b.set_xticks(age_ticks)
ax_b.set_yticks(grad_ticks)
ax_b.yaxis.set_major_formatter(FormatStrFormatter('%.1f'))
ax_b.tick_params(direction='in', top=True, length=7, labelsize=TICK)
ax_b.tick_params(axis='y', pad=23)
ax_b.tick_params(axis='x', pad=7)
frame(ax_b, '#aaaaaa')
bb = blended_transform_factory(ax_b.transData, ax_b.transAxes)
ax_b.text(365.6, 0.982, '10', transform=bb, ha='center', va='center', fontsize=12,
          bbox=dict(facecolor='#f3f3f3', edgecolor='none', pad=1.5))
ax_b.text(442.8, 0.982, '12', transform=bb, ha='center', va='center', fontsize=12,
          bbox=dict(facecolor='#f3f3f3', edgecolor='none', pad=1.5))
fa, fv = unzip(ref_pts)
ax_b.plot(fa, fv, color='#e0302a', lw=2.6, dashes=(2, 1.6))
ga, gv = unzip(grad_pts)
ax_b.plot(ga, gv, color='black', lw=3)

ax_bs = ax_b.twinx()
ax_bs.set_zorder(2.1)
ax_bs.set_ylim(12.95, 26.0)
ax_bs.set_yticks(sst_ticks_bot)
ax_bs.tick_params(direction='in', length=7, labelsize=TICK, pad=21, labelcolor='#3a3acc')
frame(ax_bs, '#aaaaaa')
ax_bs.plot(sa, sv, color='#2a3ee0', lw=3)

fig.text(fx(50), fy(988), r'$\Delta\delta^{13}$C', rotation=90, fontsize=20, ha='center', va='center', zorder=3)
fig.text(fx(103), fy(944), 'Atl-Pac', rotation=90, fontsize=12, ha='center', va='center',
         family='Liberation Sans', zorder=3)
fig.text(fx(62), fy(906), '‰', rotation=90, fontsize=18, ha='center', va='center', zorder=3)
fig.text(fx(1571), fy(983), r'SST ($^{o}$C)', rotation=270, fontsize=22, color='#3a3acc',
         ha='center', va='center', zorder=3)
fig.text(fx(516), fy(1092), 'Overturning strength', fontsize=24, ha='center', va='center', zorder=3, **BOLD)
fig.text(fx(549), fy(1131), r'Atlantic-Pacific benthic $^{\mathbf{13}}$C/$^{\mathbf{12}}$C gradient',
         fontsize=23, ha='center', va='center', zorder=3, **BOLD)

fig.add_artist(FancyArrowPatch((fx(476), fy(1177)), (fx(322), fy(1177)), transform=fig.transFigure,
                               arrowstyle='simple,head_length=1.4,head_width=1.4,tail_width=0.5',
                               mutation_scale=12, color='#ff2a00', shrinkA=0, shrinkB=0, zorder=5))

fig.text(fx(866), fy(1236), 'Age in thousands of years before present (B.P.)', fontsize=40,
         ha='center', va='center', zorder=3, **BOLD)
fig.text(fx(1616), fy(1213), 'Bard', fontsize=18, ha='right', va='center', zorder=3, **BOLD)
fig.text(fx(1580), fy(1247), '200', fontsize=18, ha='left', va='center', zorder=3, **BOLD)

fig.savefig('out.png', dpi=100)
